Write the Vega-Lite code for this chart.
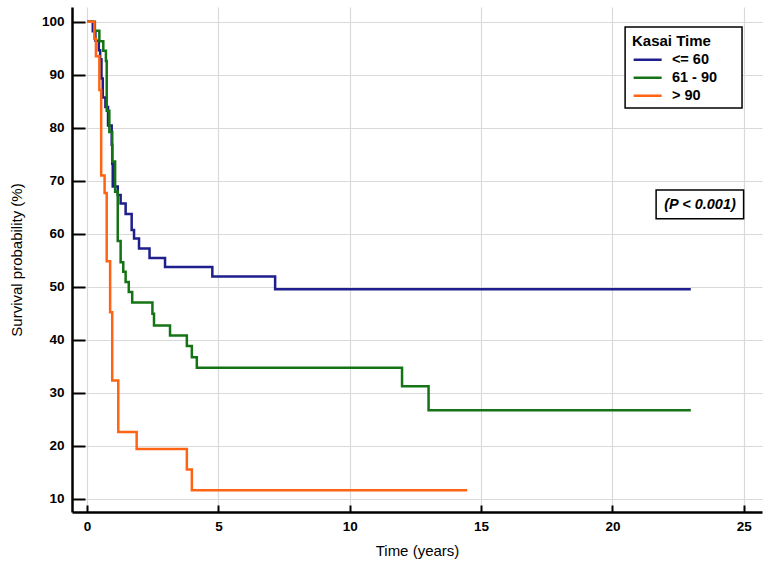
{
  "$schema": "https://vega.github.io/schema/vega-lite/v6.json",
  "width": 690,
  "height": 505,
  "autosize": {"type": "none"},
  "padding": {"left": 72, "top": 7, "right": 3, "bottom": 50},
  "background": "white",
  "config": {
    "font": "Liberation Sans",
    "view": {"stroke": null},
    "axis": {
      "domainColor": "black",
      "domainWidth": 2.5,
      "tickColor": "black",
      "tickWidth": 2,
      "gridColor": "#d9d9d9",
      "gridWidth": 1.2,
      "labelColor": "black",
      "titleColor": "black",
      "labelFontWeight": "bold",
      "labelFontSize": 13.5,
      "titleFontSize": 15,
      "titleFontWeight": "normal",
      "labelFlush": false,
      "labelOverlap": false
    },
    "legend": {
      "orient": "none",
      "legendX": 553,
      "legendY": 20,
      "padding": 7,
      "titleFontSize": 15,
      "titleFontWeight": "bold",
      "titleColor": "black",
      "titlePadding": 3.5,
      "labelFontSize": 14.5,
      "labelFontWeight": "bold",
      "labelColor": "black",
      "labelOffset": 17,
      "symbolType": "M-2.5,0H2.5",
      "symbolSize": 125.44,
      "symbolOffset": 8.4,
      "symbolStrokeWidth": 2.5,
      "rowPadding": 3
    }
  },
  "datasets": {
    "km": [
      {"group": "<= 60", "t": 0, "s": 100},
      {"group": "<= 60", "t": 0.22, "s": 98.2},
      {"group": "<= 60", "t": 0.32, "s": 96.4},
      {"group": "<= 60", "t": 0.45, "s": 94.6},
      {"group": "<= 60", "t": 0.5, "s": 92.9},
      {"group": "<= 60", "t": 0.55, "s": 89.3},
      {"group": "<= 60", "t": 0.6, "s": 85.7},
      {"group": "<= 60", "t": 0.7, "s": 83.9},
      {"group": "<= 60", "t": 0.8, "s": 80.4},
      {"group": "<= 60", "t": 0.94, "s": 76.8},
      {"group": "<= 60", "t": 0.96, "s": 73.2},
      {"group": "<= 60", "t": 0.98, "s": 68.9},
      {"group": "<= 60", "t": 1.17, "s": 67.3},
      {"group": "<= 60", "t": 1.28, "s": 65.7},
      {"group": "<= 60", "t": 1.47, "s": 63.7},
      {"group": "<= 60", "t": 1.7, "s": 60.7},
      {"group": "<= 60", "t": 1.79, "s": 59.1},
      {"group": "<= 60", "t": 1.98, "s": 57.2},
      {"group": "<= 60", "t": 2.38, "s": 55.4},
      {"group": "<= 60", "t": 2.97, "s": 53.7},
      {"group": "<= 60", "t": 4.77, "s": 51.9},
      {"group": "<= 60", "t": 7.16, "s": 49.5},
      {"group": "<= 60", "t": 22.98, "s": 49.5},
      {"group": "61 - 90", "t": 0, "s": 100},
      {"group": "61 - 90", "t": 0.3, "s": 98.3},
      {"group": "61 - 90", "t": 0.47, "s": 96.3},
      {"group": "61 - 90", "t": 0.62, "s": 94.5},
      {"group": "61 - 90", "t": 0.72, "s": 92.6},
      {"group": "61 - 90", "t": 0.75, "s": 83.2},
      {"group": "61 - 90", "t": 0.85, "s": 79.2},
      {"group": "61 - 90", "t": 0.96, "s": 73.6},
      {"group": "61 - 90", "t": 1.07, "s": 67.9},
      {"group": "61 - 90", "t": 1.17, "s": 58.6},
      {"group": "61 - 90", "t": 1.28, "s": 54.6},
      {"group": "61 - 90", "t": 1.38, "s": 52.8},
      {"group": "61 - 90", "t": 1.47, "s": 50.9},
      {"group": "61 - 90", "t": 1.59, "s": 49.0},
      {"group": "61 - 90", "t": 1.72, "s": 47.0},
      {"group": "61 - 90", "t": 2.49, "s": 44.9},
      {"group": "61 - 90", "t": 2.55, "s": 42.7},
      {"group": "61 - 90", "t": 3.16, "s": 40.8},
      {"group": "61 - 90", "t": 3.8, "s": 38.8},
      {"group": "61 - 90", "t": 3.99, "s": 36.7},
      {"group": "61 - 90", "t": 4.18, "s": 34.7},
      {"group": "61 - 90", "t": 11.99, "s": 31.2},
      {"group": "61 - 90", "t": 13.0, "s": 26.7},
      {"group": "61 - 90", "t": 22.98, "s": 26.7},
      {"group": "> 90", "t": 0, "s": 100},
      {"group": "> 90", "t": 0.28, "s": 96.8},
      {"group": "> 90", "t": 0.34, "s": 93.5},
      {"group": "> 90", "t": 0.47, "s": 87.1},
      {"group": "> 90", "t": 0.54, "s": 71.0},
      {"group": "> 90", "t": 0.67, "s": 67.7},
      {"group": "> 90", "t": 0.75, "s": 54.8},
      {"group": "> 90", "t": 0.88, "s": 45.2},
      {"group": "> 90", "t": 0.96, "s": 32.3},
      {"group": "> 90", "t": 1.19, "s": 22.6},
      {"group": "> 90", "t": 1.89, "s": 19.4},
      {"group": "> 90", "t": 3.8, "s": 15.5},
      {"group": "> 90", "t": 3.99, "s": 11.6},
      {"group": "> 90", "t": 14.47, "s": 11.6}
    ],
    "notes": [
      {"note": "(P < 0.001)"}
    ]
  },
  "layer": [
    {
      "data": {"name": "km"},
      "mark": {"type": "line", "interpolate": "step-after", "strokeWidth": 2.5},
      "encoding": {
        "x": {
          "field": "t",
          "type": "quantitative",
          "title": "Time (years)",
          "scale": {"domain": [-0.571, 25.69], "nice": false, "zero": false},
          "axis": {
            "values": [0, 5, 10, 15, 20, 25],
            "tickSize": -7,
            "labelPadding": 14.5,
            "titleY": 38,
            "titleBaseline": "middle"
          }
        },
        "y": {
          "field": "s",
          "type": "quantitative",
          "title": "Survival probability (%)",
          "scale": {"domain": [7.49, 102.77], "nice": false, "zero": false},
          "axis": {
            "values": [10, 15, 20, 25, 30, 35, 40, 45, 50, 55, 60, 65, 70, 75, 80, 85, 90, 95, 100],
            "labelExpr": "datum.value % 10 === 0 ? datum.label : ''",
            "tickSize": {"condition": {"test": "datum.value % 10 === 0", "value": -13}, "value": -6},
            "gridOpacity": {"condition": {"test": "datum.value % 10 === 0", "value": 1}, "value": 0},
            "labelPadding": 21,
            "titleX": -56,
            "titleY": 252.5,
            "titleAngle": -90,
            "titleAlign": "center",
            "titleBaseline": "middle"
          }
        },
        "color": {
          "field": "group",
          "type": "nominal",
          "title": "Kasai Time",
          "sort": ["<= 60", "61 - 90", "> 90"],
          "scale": {"domain": ["<= 60", "61 - 90", "> 90"], "range": ["#1e1e8c", "#147314", "#ff6414"]}
        }
      }
    },
    {
      "data": {"name": "notes"},
      "mark": {"type": "rect", "fill": "white", "stroke": "black", "strokeWidth": 1.5},
      "encoding": {
        "x": {"datum": 20.48, "type": "quantitative"},
        "x2": {"datum": 24.93},
        "y": {"datum": 83.7, "type": "quantitative"},
        "y2": {"datum": 99.0}
      }
    },
    {
      "data": {"name": "notes"},
      "mark": {"type": "rect", "fill": "white", "stroke": "black", "strokeWidth": 1.5},
      "encoding": {
        "x": {"datum": 21.66, "type": "quantitative"},
        "x2": {"datum": 24.99},
        "y": {"datum": 62.8, "type": "quantitative"},
        "y2": {"datum": 68.25}
      }
    },
    {
      "data": {"name": "notes"},
      "mark": {"type": "text", "fontSize": 14.5, "fontWeight": "bold", "fontStyle": "italic", "align": "center", "baseline": "middle", "color": "black"},
      "encoding": {
        "x": {"datum": 23.33, "type": "quantitative"},
        "y": {"datum": 65.5, "type": "quantitative"},
        "text": {"field": "note"}
      }
    }
  ]
}
